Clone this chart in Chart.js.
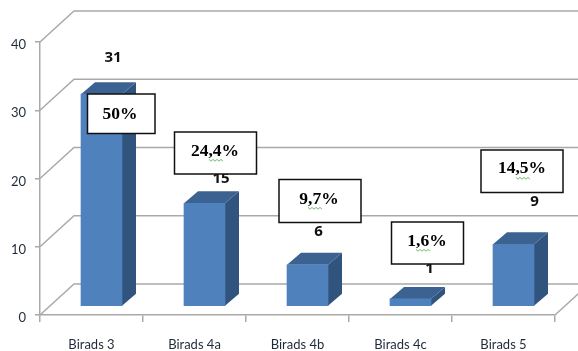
<!DOCTYPE html>
<html>
<head>
<meta charset="utf-8">
<script src="https://cdn.jsdelivr.net/npm/chart.js@4"></script>
<style>html,body{margin:0;padding:0;background:#fff}canvas{display:block}</style>
</head>
<body>
<canvas id="c" width="578" height="351"></canvas>
<script>
const categories = ['Birads 3', 'Birads 4a', 'Birads 4b', 'Birads 4c', 'Birads 5'];
const counts = [31, 15, 6, 1, 9];
const percentLabels = ['50%', '24,4%', '9,7%', '1,6%', '14,5%'];
const yTicks = [0, 10, 20, 30, 40];

// layout of hand-placed annotations and pseudo-3D look
const countLabelOffsets = [[11.5, -36], [16.5, -25], [11, -33], [19, -30], [21, -43]];
const calloutBoxes = [[87.5, 94, 67.5, 39.5], [174.5, 132, 82, 42], [279, 179.5, 82, 43], [391.5, 222, 72, 42], [481, 150, 82, 42.5]];
const calloutText = [[120, 114], [215, 151], [319, 199], [427, 241], [522, 168]];
const squiggles = [null, [209, 160], [308, 208], [416, 250], [516, 178]];
const WALL = { dx: 34, dy: 31 }, BAR = { dx: 14, dy: 12 };
const GRID = '#a9a9a9';
const yShift = 9.3 / 6.825, xShift = 10 / 103;

const scene = {
  id: 'scene',
  beforeDatasetsDraw(chart) {
    const { ctx } = chart, y = chart.scales.y, x = chart.scales.x;
    ctx.save();
    ctx.strokeStyle = GRID; ctx.lineWidth = 1.5;
    yTicks.forEach(t => {
      const py = y.getPixelForValue(t);
      ctx.beginPath();
      ctx.moveTo(x.left, py);
      ctx.lineTo(x.left + WALL.dx, py - WALL.dy);
      ctx.lineTo(578, py - WALL.dy);
      ctx.stroke();
    });
    const y0 = y.getPixelForValue(0);
    ctx.beginPath();
    ctx.moveTo(x.right, y0);
    ctx.lineTo(x.right + WALL.dx, y0 - WALL.dy);
    ctx.stroke();
    chart.getDatasetMeta(0).data.forEach(b => {
      const l = b.x - b.width / 2, r = b.x + b.width / 2;
      ctx.fillStyle = '#31547f';
      ctx.beginPath();
      ctx.moveTo(r, b.y); ctx.lineTo(r + BAR.dx, b.y - BAR.dy);
      ctx.lineTo(r + BAR.dx, b.base - BAR.dy); ctx.lineTo(r, b.base);
      ctx.closePath(); ctx.fill();
      ctx.fillStyle = '#3c6291';
      ctx.beginPath();
      ctx.moveTo(l, b.y); ctx.lineTo(l + BAR.dx, b.y - BAR.dy);
      ctx.lineTo(r + BAR.dx, b.y - BAR.dy); ctx.lineTo(r, b.y);
      ctx.closePath(); ctx.fill();
    });
    ctx.restore();
  },
  afterDatasetsDraw(chart) {
    const { ctx } = chart;
    ctx.save();
    ctx.textAlign = 'center'; ctx.textBaseline = 'middle';
    ctx.fillStyle = '#111';
    ctx.font = 'bold 15px "Open Sans"';
    chart.getDatasetMeta(0).data.forEach((b, i) => {
      ctx.fillText(String(counts[i]), b.x + countLabelOffsets[i][0], b.y + countLabelOffsets[i][1]);
    });
    percentLabels.forEach((txt, i) => {
      const [bx, by, bw, bh] = calloutBoxes[i];
      ctx.fillStyle = '#fff'; ctx.fillRect(bx, by, bw, bh);
      ctx.strokeStyle = '#111'; ctx.lineWidth = 1.5; ctx.strokeRect(bx, by, bw, bh);
      ctx.fillStyle = '#000';
      ctx.font = 'bold 17.5px "Liberation Serif"';
      ctx.fillText(txt, calloutText[i][0], calloutText[i][1]);
      if (squiggles[i]) {
        const [sx, sy] = squiggles[i];
        ctx.strokeStyle = '#63b35f'; ctx.lineWidth = 0.9;
        ctx.beginPath();
        for (let k = 0; k <= 7; k++) {
          const px = sx + k * 2, py = sy + (k % 2 ? 1.2 : -0.6);
          k ? ctx.lineTo(px, py) : ctx.moveTo(px, py);
        }
        ctx.stroke();
      }
    });
    ctx.restore();
  }
};

new Chart(document.getElementById('c'), {
  type: 'bar',
  data: {
    labels: categories,
    datasets: [{
      data: counts.map((v, i) => ({ x: i, y: v })),
      xAxisID: 'xBar', yAxisID: 'yBar',
      backgroundColor: '#4f81bd',
      borderWidth: 0,
      barThickness: 41
    }]
  },
  plugins: [scene],
  options: {
    responsive: false,
    animation: false,
    events: [],
    layout: { padding: { top: 42, right: 23, left: 0, bottom: 0 } },
    plugins: { legend: { display: false }, tooltip: { enabled: false }, title: { display: false } },
    scales: {
      x: {
        type: 'category', labels: categories, offset: true,
        afterFit(s) { s.height = 36; },
        grid: { offset: true, drawOnChartArea: false, color: GRID, lineWidth: 1.5, tickLength: 7, tickColor: GRID },
        border: { color: GRID, width: 1.5 },
        ticks: { color: '#1f2a38', font: { family: 'Lato', size: 13 }, padding: 15, maxRotation: 0, autoSkip: false }
      },
      y: {
        type: 'linear', min: 0, max: 40,
        afterFit(s) { s.width = 40; },
        afterBuildTicks(s) { s.ticks = yTicks.map(v => ({ value: v })); },
        grid: { drawOnChartArea: false, color: GRID, lineWidth: 1.5, tickLength: 5, tickColor: GRID },
        border: { color: GRID, width: 1.5 },
        ticks: { color: '#1f2a38', font: { family: 'Lato', size: 13 }, padding: 9, labelOffset: 3 }
      },
      xBar: { type: 'linear', axis: 'x', display: false, offset: false, min: -0.5 - xShift, max: 4.5 - xShift },
      yBar: { type: 'linear', axis: 'y', display: false, min: -yShift, max: 40 - yShift }
    }
  }
});
</script>
</body>
</html>
